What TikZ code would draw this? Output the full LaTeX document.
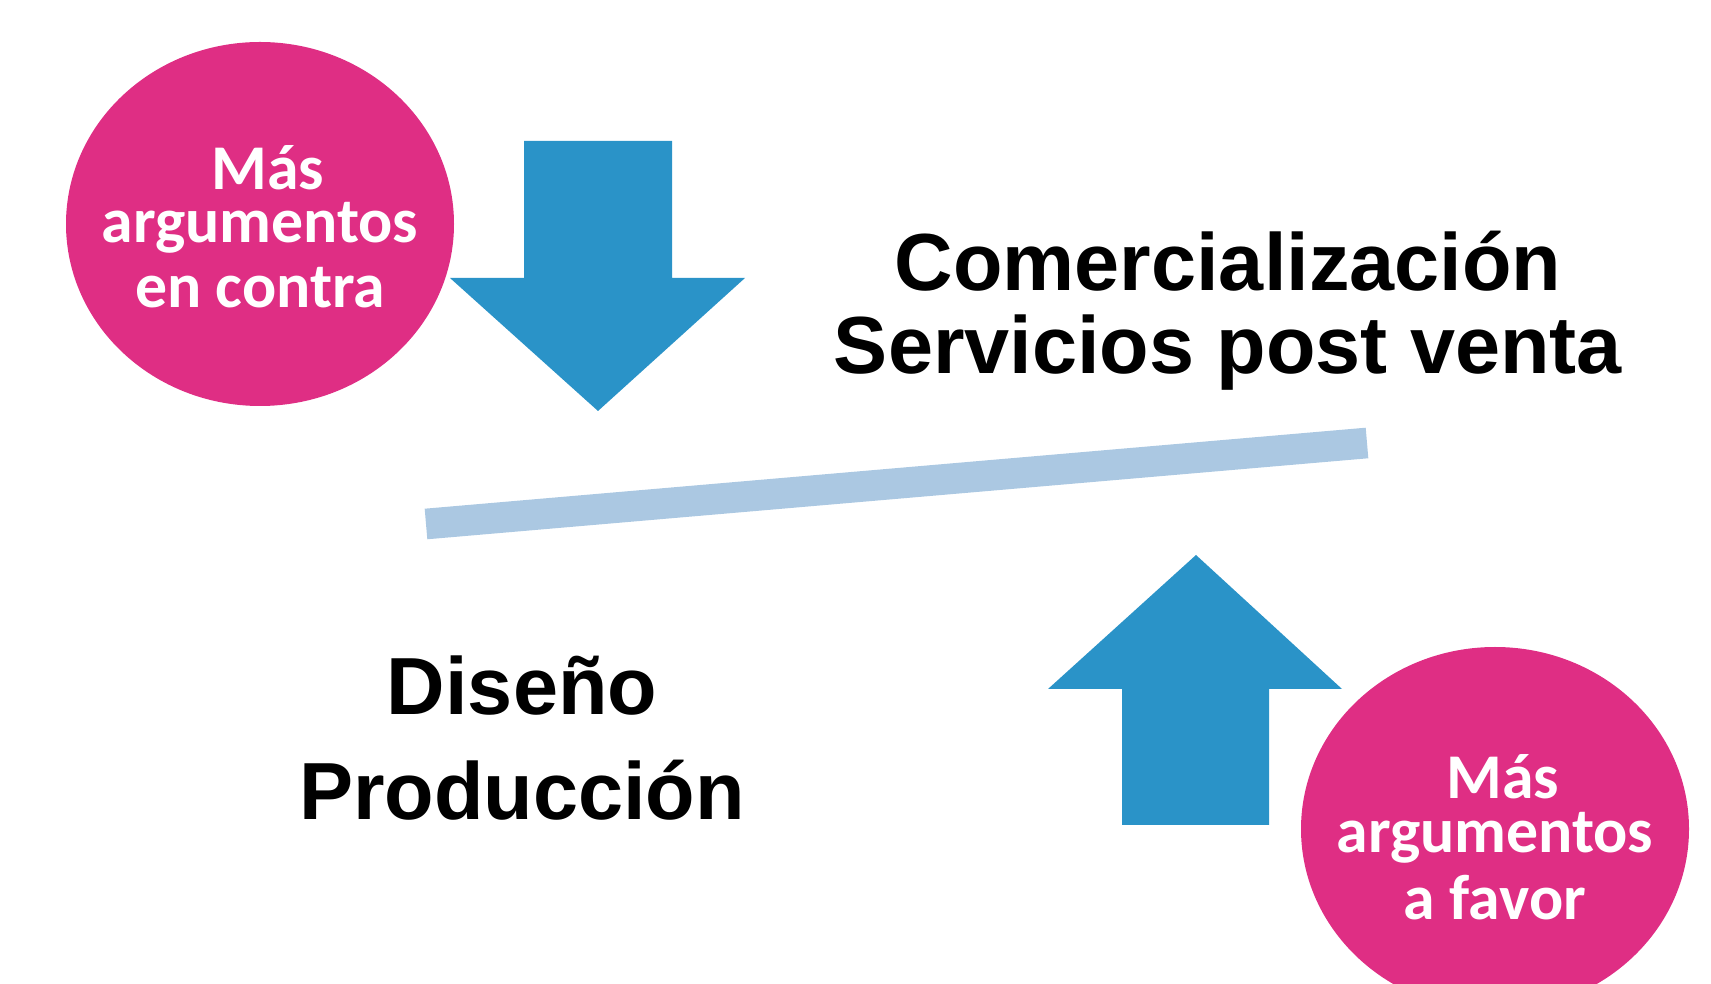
\documentclass[tikz,border=0pt]{standalone}
\usepackage{fontspec}
\setmainfont{Liberation Sans}
\newfontfamily\argfont{Carlito}
\usepackage{tikz}
\usetikzlibrary{shapes.geometric}
\definecolor{ArgPink}{HTML}{DF2E84}
\definecolor{ArrowBlue}{HTML}{2A93C8}
\definecolor{BarBlue}{HTML}{ABC8E2}

\begin{document}
\begin{tikzpicture}[line join=miter,
  argument/.style={ellipse,
                   fill=ArgPink,
                   inner xsep=-30bp,
                   inner ysep=0pt,
                   minimum width=291bp,
                   minimum height=273bp,
                   text=white,
                   align=center,
                   text depth=0pt,
                   font=\argfont\bfseries\fontsize{48}{40.5}\selectfont},
  stage/.style={align=center,
                anchor=base,
                inner sep=0pt},
  push/.style={fill=ArrowBlue},
  beam/.style={draw=BarBlue, line width=23bp},
  ]
%%
\useasboundingbox (0bp,0bp) rectangle (1283.25bp,738bp);
  \coordinate (beam_l) at (319.5bp,345.0bp);
  \coordinate (beam_r) at (1025.25bp,405.75bp);
  \draw [beam] (beam_l) -- (beam_r);
%
  \fill [push] (393.0bp,632.25bp) -- (504.0bp,632.25bp) -- (504.0bp,529.5bp) -- (558.75bp,529.5bp)
    -- (448.5bp,429.75bp) -- (337.5bp,529.5bp) -- (393.0bp,529.5bp) -- cycle;
  \fill [push] (841.5bp,119.25bp) -- (951.75bp,119.25bp) -- (951.75bp,221.25bp) -- (1006.5bp,221.25bp)
    -- (897.0bp,321.75bp) -- (786.0bp,221.25bp) -- (841.5bp,221.25bp) -- cycle;
%
  \node (arg_contra) at (195.0bp,570.0bp) [argument,text height=126bp]
    {\hspace*{12bp}M\'as\\argumentos\\[8.5bp]en contra};
  \node (arg_favor) at (1121.25bp,116.25bp) [argument,text height=136.5bp]
    {\hspace*{12bp}M\'as\\argumentos\\[8.5bp]a favor};
%
  \node (stage_late) at (921.0bp,457.5bp) [stage,font=\bfseries\fontsize{61}{63}\selectfont]
    {Comercializaci\'on\\Servicios post venta};
  \node (stage_early) at (391.5bp,123.0bp) [stage,font=\bfseries\fontsize{61}{79.5}\selectfont]
    {Dise\~no\\Producci\'on};
%
\end{tikzpicture}
\end{document}
